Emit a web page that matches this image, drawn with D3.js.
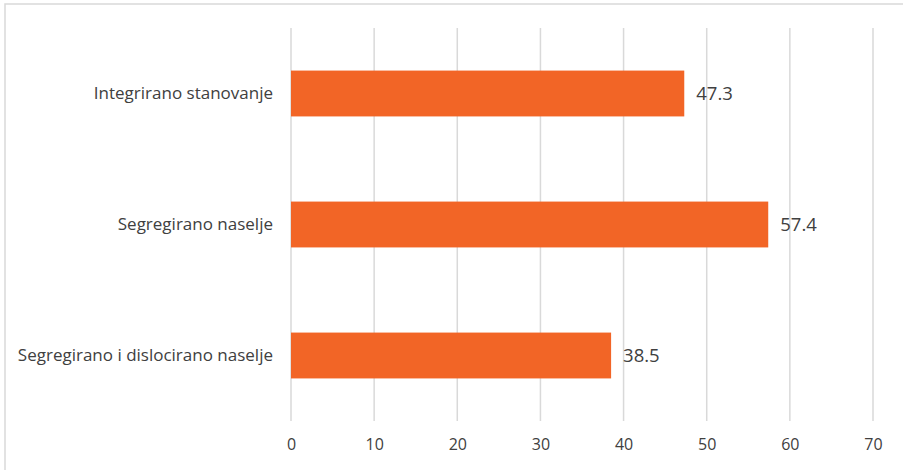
<!DOCTYPE html>
<html>
<head>
<meta charset="utf-8">
<script src="https://cdn.jsdelivr.net/npm/d3@7"></script>
<style>
  body { margin: 0; background: #fff; }
  svg text { font-family: "Open Sans", "Noto Sans", sans-serif; fill: #404040; }
</style>
</head>
<body>
<script>
const categories = ["Integrirano stanovanje", "Segregirano naselje", "Segregirano i dislocirano naselje"];
const values = [47.3, 57.4, 38.5];
const xTicks = [0, 10, 20, 30, 40, 50, 60, 70];

const W = 903, H = 470;
const margin = { top: 28, right: 30, bottom: 49, left: 291 };
const plotW = 873 - 291, plotH = H - margin.top - margin.bottom;

const svg = d3.select("body").append("svg")
  .attr("width", W)
  .attr("height", H);

// chart frame
svg.append("rect")
  .attr("x", 5).attr("y", 4)
  .attr("width", W + 10).attr("height", H + 10)
  .attr("fill", "none")
  .attr("stroke", "#d9d9d9")
  .attr("stroke-width", 1.5);

const g = svg.append("g")
  .attr("transform", "translate(" + margin.left + "," + margin.top + ")");

const x = d3.scaleLinear().domain([0, 70]).range([0, plotW]);
const y = d3.scaleBand().domain(categories).range([0, plotH]).paddingInner(0.65).paddingOuter(0.325);

// gridlines
g.selectAll(".grid")
  .data(xTicks)
  .enter().append("line")
  .attr("x1", d => x(d)).attr("x2", d => x(d))
  .attr("y1", 0).attr("y2", plotH)
  .attr("stroke", "#d9d9d9")
  .attr("stroke-width", 1.5);

// x axis labels
const xAxis = g.append("g")
  .attr("transform", "translate(0," + plotH + ")")
  .call(d3.axisBottom(x).tickValues(xTicks).tickSize(0).tickPadding(18));
xAxis.select(".domain").remove();
xAxis.selectAll("text")
  .style("font-family", '"Open Sans", sans-serif')
  .style("font-size", "16px")
  .attr("fill", "#404040");

// y axis labels
const yAxis = g.append("g")
  .call(d3.axisLeft(y).tickSize(0).tickPadding(18));
yAxis.select(".domain").remove();
yAxis.selectAll("text")
  .style("font-family", '"Open Sans", sans-serif')
  .style("font-size", "17px")
  .attr("fill", "#404040");

// bars
g.selectAll(".bar")
  .data(values)
  .enter().append("rect")
  .attr("x", x(0))
  .attr("y", (d, i) => y(categories[i]))
  .attr("width", d => x(d) - x(0))
  .attr("height", y.bandwidth())
  .attr("fill", "#f26526");

// value labels
g.selectAll(".val")
  .data(values)
  .enter().append("text")
  .attr("x", d => x(d) + 12)
  .attr("y", (d, i) => y(categories[i]) + y.bandwidth() / 2)
  .attr("dy", "0.35em")
  .style("font-size", "18.5px")
  .text(d => d.toFixed(1));
</script>
</body>
</html>
